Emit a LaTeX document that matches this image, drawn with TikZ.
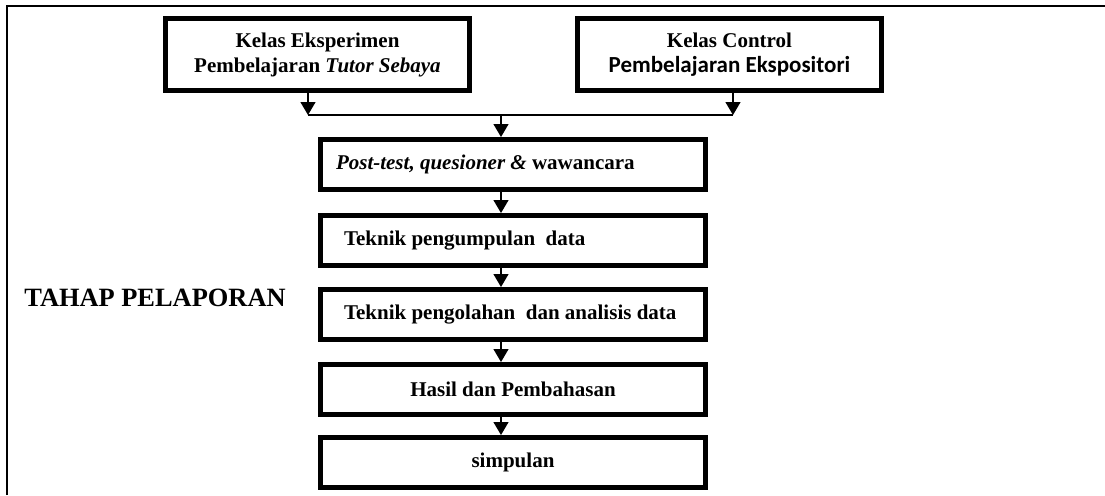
\documentclass[tikz,border=0pt]{standalone}
\usepackage{fontspec}
\setmainfont{Liberation Serif}
\newfontfamily\calfont{Carlito}
\usetikzlibrary{arrows.meta,calc}
\newcommand{\kiritext}[2]{\makebox[#1][l]{#2}}

\begin{document}
\begin{tikzpicture}[x=0.5pt,y=-0.5pt,
    kotak/.style={draw, line width=2.5pt, font=\bfseries\fontsize{10.5}{12.5}\selectfont},
    kelas/.style={kotak, minimum width=152pt, minimum height=36pt, align=center},
    tahap/.style={kotak, minimum width=192.5pt, minimum height=25pt, align=center},
    kiri/.style={tahap, inner xsep=7.75pt},
    kiri2/.style={tahap, inner xsep=11.75pt},
    panah/.style={line width=0.6pt, -{Triangle[width=7.5pt,length=6.5pt]}}]
    \useasboundingbox (0,0) rectangle (1105,495);
    % bingkai
    \draw[line width=1pt] (7,495) -- (7,6) -- (1105,6);

    % kelas
    \node[kelas] (eks) at (317.5,54.5) {Kelas Eksperimen\\Pembelajaran \textit{Tutor Sebaya}};
    \node[kelas] (kon) at (729.5,54.5) {Kelas Control\\{\calfont\fontsize{11.5}{12.5}\selectfont Pembelajaran Ekspositori}};

    % tahap
    \node[kiri] (post) at (513,164.5) {\kiritext{177pt}{\textit{Post-test, quesioner \&} wawancara}};
    \node[kiri2] (kumpul) at (513,240.5) {\kiritext{169pt}{Teknik pengumpulan\ \ data}};
    \node[kiri2] (olah) at (513,314.5) {\kiritext{169pt}{Teknik pengolahan\ \ dan analisis data}};
    \node[tahap] (hasil) at (513,389.5) {Hasil dan Pembahasan};
    \node[tahap] (simp) at (513,462.5) {simpulan};

    \node[font=\bfseries\fontsize{13.2}{15}\selectfont] (judul) at (155,298) {TAHAP PELAPORAN};

    % panah
    \coordinate (ja) at (308,115);
    \coordinate (jb) at (733,115);
    \coordinate (jc) at (501,115);
    \draw[panah] (eks.south -| ja) -- (ja);
    \draw[panah] (kon.south -| jb) -- (jb);
    \draw[line width=0.6pt] (ja) -- (jb);
    \draw[panah] (jc) -- (post.north -| jc);
    \draw[panah] (post.south -| jc) -- (kumpul.north -| jc);
    \draw[panah] (kumpul.south -| jc) -- (olah.north -| jc);
    \draw[panah] (olah.south -| jc) -- (hasil.north -| jc);
    \draw[panah] (hasil.south -| jc) -- (simp.north -| jc);
\end{tikzpicture}
\end{document}
